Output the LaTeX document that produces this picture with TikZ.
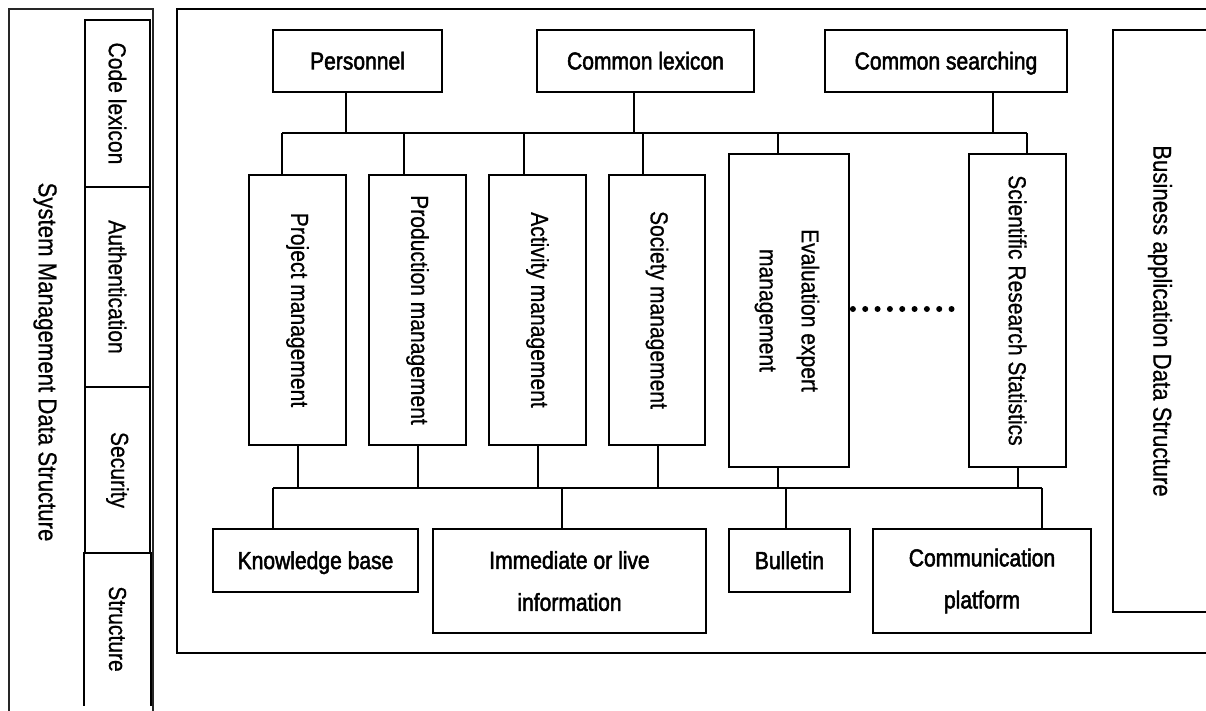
\documentclass[tikz,border=0pt]{standalone}
\usepackage{fontspec}
\setmainfont{Liberation Sans}[FakeStretch=0.86, FakeBold=2]
\newfontfamily\rotfont{Liberation Sans}[FakeStretch=0.86, FakeBold=0.6]
\usetikzlibrary{calc}
\newcommand{\vtext}[1]{\rotatebox{-90}{\rotfont #1}}
\begin{document}
\begin{tikzpicture}[x=1pt,y=-1pt,
  box/.style={draw, line width=1.8pt, inner sep=0pt, font=\fontsize{24.5}{42}\selectfont, align=center},
  one/.style={text height=17pt, text depth=0pt},
  lbl/.style={inner sep=0pt, font=\fontsize{25.8}{30}\selectfont},
  link/.style={line width=1.6pt},
  frame/.style={line width=2pt},
  dots/.style={line width=6pt, line cap=round, dash pattern=on 0pt off 12.33pt}]
\useasboundingbox (0,0) rectangle (1206,711);

% left panel
\draw[frame, draw=black!85] (9,716) -- (9,9) -- (153,9) -- (153,716);
\node[box, minimum width=65pt, minimum height=167pt] (c1) at (117.5,103.5) {\vtext{Code lexicon}};
\node[box, minimum width=65pt, minimum height=200pt] (c2) at (117.5,287) {\vtext{Authentication}};
\node[box, minimum width=65pt, minimum height=166pt] (c3) at (117.5,470) {\vtext{Security}};
\node[box, draw=none, minimum width=65pt, minimum height=152pt] (c4) at (117.5,629) {\vtext{Structure}};
\draw[line width=1.8pt] (c4.south west) -- (c4.north west) (c4.north east) -- (c4.south east);
\node[lbl] (sys) at (45,362) {\vtext{System Management Data Structure}};

% main frame
\draw[frame] (1215,9) -- (177,9) -- (177,653) -- (1215,653);

% business box
\draw[line width=1.8pt] (1215,30) -- (1113,30) -- (1113,612) -- (1215,612);
\node[lbl] (busi) at (1160,321) {\vtext{Business application Data Structure}};

% top boxes
\node[box, one, minimum width=169pt, minimum height=62pt] (pers) at (357.5,61) {Personnel};
\node[box, one, minimum width=217pt, minimum height=62pt] (lex) at (645.5,61) {Common lexicon};
\node[box, one, minimum width=242pt, minimum height=62pt] (srch) at (946,61) {Common searching};

% vertical boxes
\node[box, minimum width=97pt, minimum height=270pt] (proj) at (297.5,310) {\vtext{Project management}};
\node[box, minimum width=97pt, minimum height=270pt] (prod) at (417.5,310) {\vtext{Production management}};
\node[box, minimum width=97pt, minimum height=270pt] (act) at (537.5,310) {\vtext{Activity management}};
\node[box, minimum width=96pt, minimum height=270pt] (soc) at (657,310) {\vtext{Society management}};
\node[box, minimum width=120pt, minimum height=313pt] (eval) at (789,310.5) {\vtext{\begin{tabular}{@{}c@{}}Evaluation expert\\management\end{tabular}}};
\node[box, minimum width=97pt, minimum height=313pt] (sci) at (1017.5,310.5) {\vtext{Scientific Research Statistics}};

% bottom boxes
\node[box, one, minimum width=205pt, minimum height=63pt] (know) at (315.5,560.5) {Knowledge base};
\node[box, minimum width=273pt, minimum height=104pt] (imm) at (569.5,581) {Immediate or live\\information};
\node[box, one, minimum width=121pt, minimum height=63pt] (bull) at (789.5,560.5) {Bulletin};
\node[box, minimum width=218pt, minimum height=104pt] (comm) at (982,581) {Communication\\platform};

% dotted
\draw[dots, shorten <=3pt, shorten >=6pt] ($(eval.east)+(0,-1.5)$) -- ($(sci.west)+(0,-1.5)$);

% buses
\coordinate (tb) at (0,133);
\coordinate (bb) at (0,488);

\draw[link] ($(pers.south)+(-11.5,0)$) coordinate (s1) -- (s1 |- tb);
\draw[link] ($(lex.south)+(-11.5,0)$) coordinate (s2) -- (s2 |- tb);
\draw[link] ($(srch.south)+(47,0)$) coordinate (s3) -- (s3 |- tb);

\draw[link] ($(proj.north)+(-15.5,0)$) coordinate (t1) -- (t1 |- tb);
\draw[link] ($(prod.north)+(-13.5,0)$) coordinate (t2) -- (t2 |- tb);
\draw[link] ($(act.north)+(-13.5,0)$) coordinate (t3) -- (t3 |- tb);
\draw[link] ($(soc.north)+(-14,0)$) coordinate (t4) -- (t4 |- tb);
\draw[link] ($(eval.north)+(-11,0)$) coordinate (t5) -- (t5 |- tb);
\draw[link] ($(sci.north)+(9.5,0)$) coordinate (t6) -- (t6 |- tb);
\draw[link] (t1 |- tb) -- (t6 |- tb);

\draw[link] ($(proj.south)+(0.5,0)$) coordinate (b1) -- (b1 |- bb);
\draw[link] ($(prod.south)+(0.5,0)$) coordinate (b2) -- (b2 |- bb);
\draw[link] ($(act.south)+(0.5,0)$) coordinate (b3) -- (b3 |- bb);
\draw[link] ($(soc.south)+(1,0)$) coordinate (b4) -- (b4 |- bb);
\draw[link] ($(eval.south)+(-11,0)$) coordinate (b5) -- (b5 |- bb);
\draw[link] ($(sci.south)+(0.5,0)$) coordinate (b6) -- (b6 |- bb);

\draw[link] ($(know.north)+(-42.5,0)$) coordinate (k1) -- (k1 |- bb);
\draw[link] ($(imm.north)+(-7.5,0)$) coordinate (k2) -- (k2 |- bb);
\draw[link] ($(bull.north)+(-3.5,0)$) coordinate (k3) -- (k3 |- bb);
\draw[link] ($(comm.north)+(60,0)$) coordinate (k4) -- (k4 |- bb);
\draw[link] (k1 |- bb) -- (k4 |- bb);
\end{tikzpicture}
\end{document}
